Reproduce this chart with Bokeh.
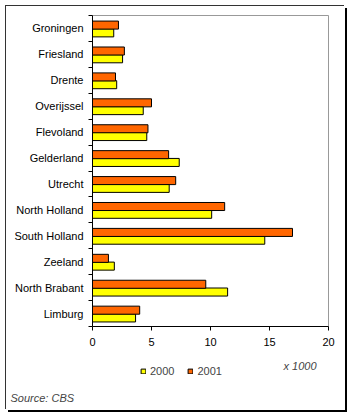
from bokeh.plotting import figure
from bokeh.models import (ColumnDataSource, FixedTicker, Range1d, Label,
                          Legend, LegendItem, Grid)
from bokeh.transform import dodge
from bokeh.embed import file_html
from bokeh.resources import INLINE

provinces = ["Groningen", "Friesland", "Drente", "Overijssel", "Flevoland",
             "Gelderland", "Utrecht", "North Holland", "South Holland",
             "Zeeland", "North Brabant", "Limburg"]
v2000 = [1.8, 2.55, 2.05, 4.3, 4.6, 7.35, 6.5, 10.1, 14.6, 1.85, 11.45, 3.65]
v2001 = [2.2, 2.7, 1.95, 5.0, 4.7, 6.45, 7.05, 11.2, 16.95, 1.35, 9.6, 4.0]
x_ticks = [0, 5, 10, 15, 20]

n = len(provinces)
pos = [n - i - 0.5 for i in range(n)]
bounds = list(range(n + 1))

src = ColumnDataSource(dict(pos=pos, v2000=v2000, v2001=v2001))

FONT = "Liberation Sans"

W, H = 339, 404          # canvas, placed at page (6, 6)
px_x = (328 - 92) / 20   # pixels per x unit
px_y = (326 - 15) / n    # pixels per category
x_lo = (6 - 92) / px_x
x_hi = (6 + W - 92) / px_x
y_hi = n + (15 - 6) / px_y
y_lo = -((6 + H) - 326) / px_y

p = figure(width=W, height=H, x_range=Range1d(x_lo, x_hi),
           y_range=Range1d(y_lo, y_hi),
           output_backend="svg", toolbar_location=None,
           min_border=0, min_border_left=0, min_border_right=0,
           min_border_top=0, min_border_bottom=0,
           background_fill_color=None, border_fill_color="#CCCCCC")
p.margin = (6, 8, 8, 6)
p.styles = {"box-shadow": "-1px -1px 0 0 #333333, 2px 2px 0 0 #000000"}
p.outline_line_color = None

r2000 = p.hbar(y=dodge("pos", -0.17), right="v2000", left=0, height=0.31,
               source=src, fill_color="#FFFF00", line_color="black", line_width=1)
r2001 = p.hbar(y=dodge("pos", 0.13), right="v2001", left=0, height=0.31,
               source=src, fill_color="#FF6600", line_color="black", line_width=1)

p.xgrid.ticker = FixedTicker(ticks=x_ticks[1:-1])
p.xgrid.grid_line_color = "white"
p.xgrid.cross_bounds = (0, n)
p.ygrid.grid_line_color = None
p.add_layout(Grid(dimension=0, ticker=FixedTicker(ticks=[20]),
                  grid_line_color="#999999", cross_bounds=(0, n)))
p.add_layout(Grid(dimension=1, ticker=FixedTicker(ticks=[n]),
                  grid_line_color="#999999", cross_bounds=(0, 20)))

xa = p.xaxis[0]
xa.ticker = FixedTicker(ticks=x_ticks)
xa.fixed_location = 0
xa.bounds = (0, 20)
xa.major_tick_out = 4
xa.major_tick_in = 0
xa.minor_tick_line_color = None
xa.axis_line_color = "black"
xa.major_tick_line_color = "black"
xa.major_label_text_font = FONT
xa.major_label_text_font_size = "11px"
xa.major_label_text_color = "black"
xa.major_label_standoff = 7

ya = p.yaxis[0]
ya.ticker = FixedTicker(ticks=pos, minor_ticks=bounds)
ya.fixed_location = 0
ya.bounds = (0, n)
ya.major_tick_line_color = None
ya.major_tick_out = 4
ya.minor_tick_out = 4
ya.minor_tick_in = 0
ya.minor_tick_line_color = "black"
ya.axis_line_color = "black"
ya.major_label_overrides = {pp: name for pp, name in zip(pos, provinces)}
ya.major_label_text_font = FONT
ya.major_label_text_font_size = "11px"
ya.major_label_text_color = "black"
ya.major_label_standoff = 5

legend = Legend(items=[LegendItem(label="2000", renderers=[r2000]),
                       LegendItem(label="2001", renderers=[r2001])],
                orientation="horizontal", location=(134, 33),
                glyph_width=6, glyph_height=6, spacing=13, label_standoff=4,
                padding=0, margin=0, background_fill_alpha=0,
                border_line_color=None,
                label_text_font=FONT, label_text_font_size="11px",
                label_height=12)
p.add_layout(legend, "center")

p.add_layout(Label(x=277, y=45, x_units="screen", y_units="screen",
                   text="x 1000", text_font=FONT, text_font_style="italic",
                   text_font_size="11px", text_baseline="middle"))
p.add_layout(Label(x=4, y=13, x_units="screen", y_units="screen",
                   text="Source: CBS", text_font=FONT, text_font_style="italic",
                   text_font_size="11px", text_baseline="middle"))

open("out.html", "w").write(file_html(p, INLINE))
